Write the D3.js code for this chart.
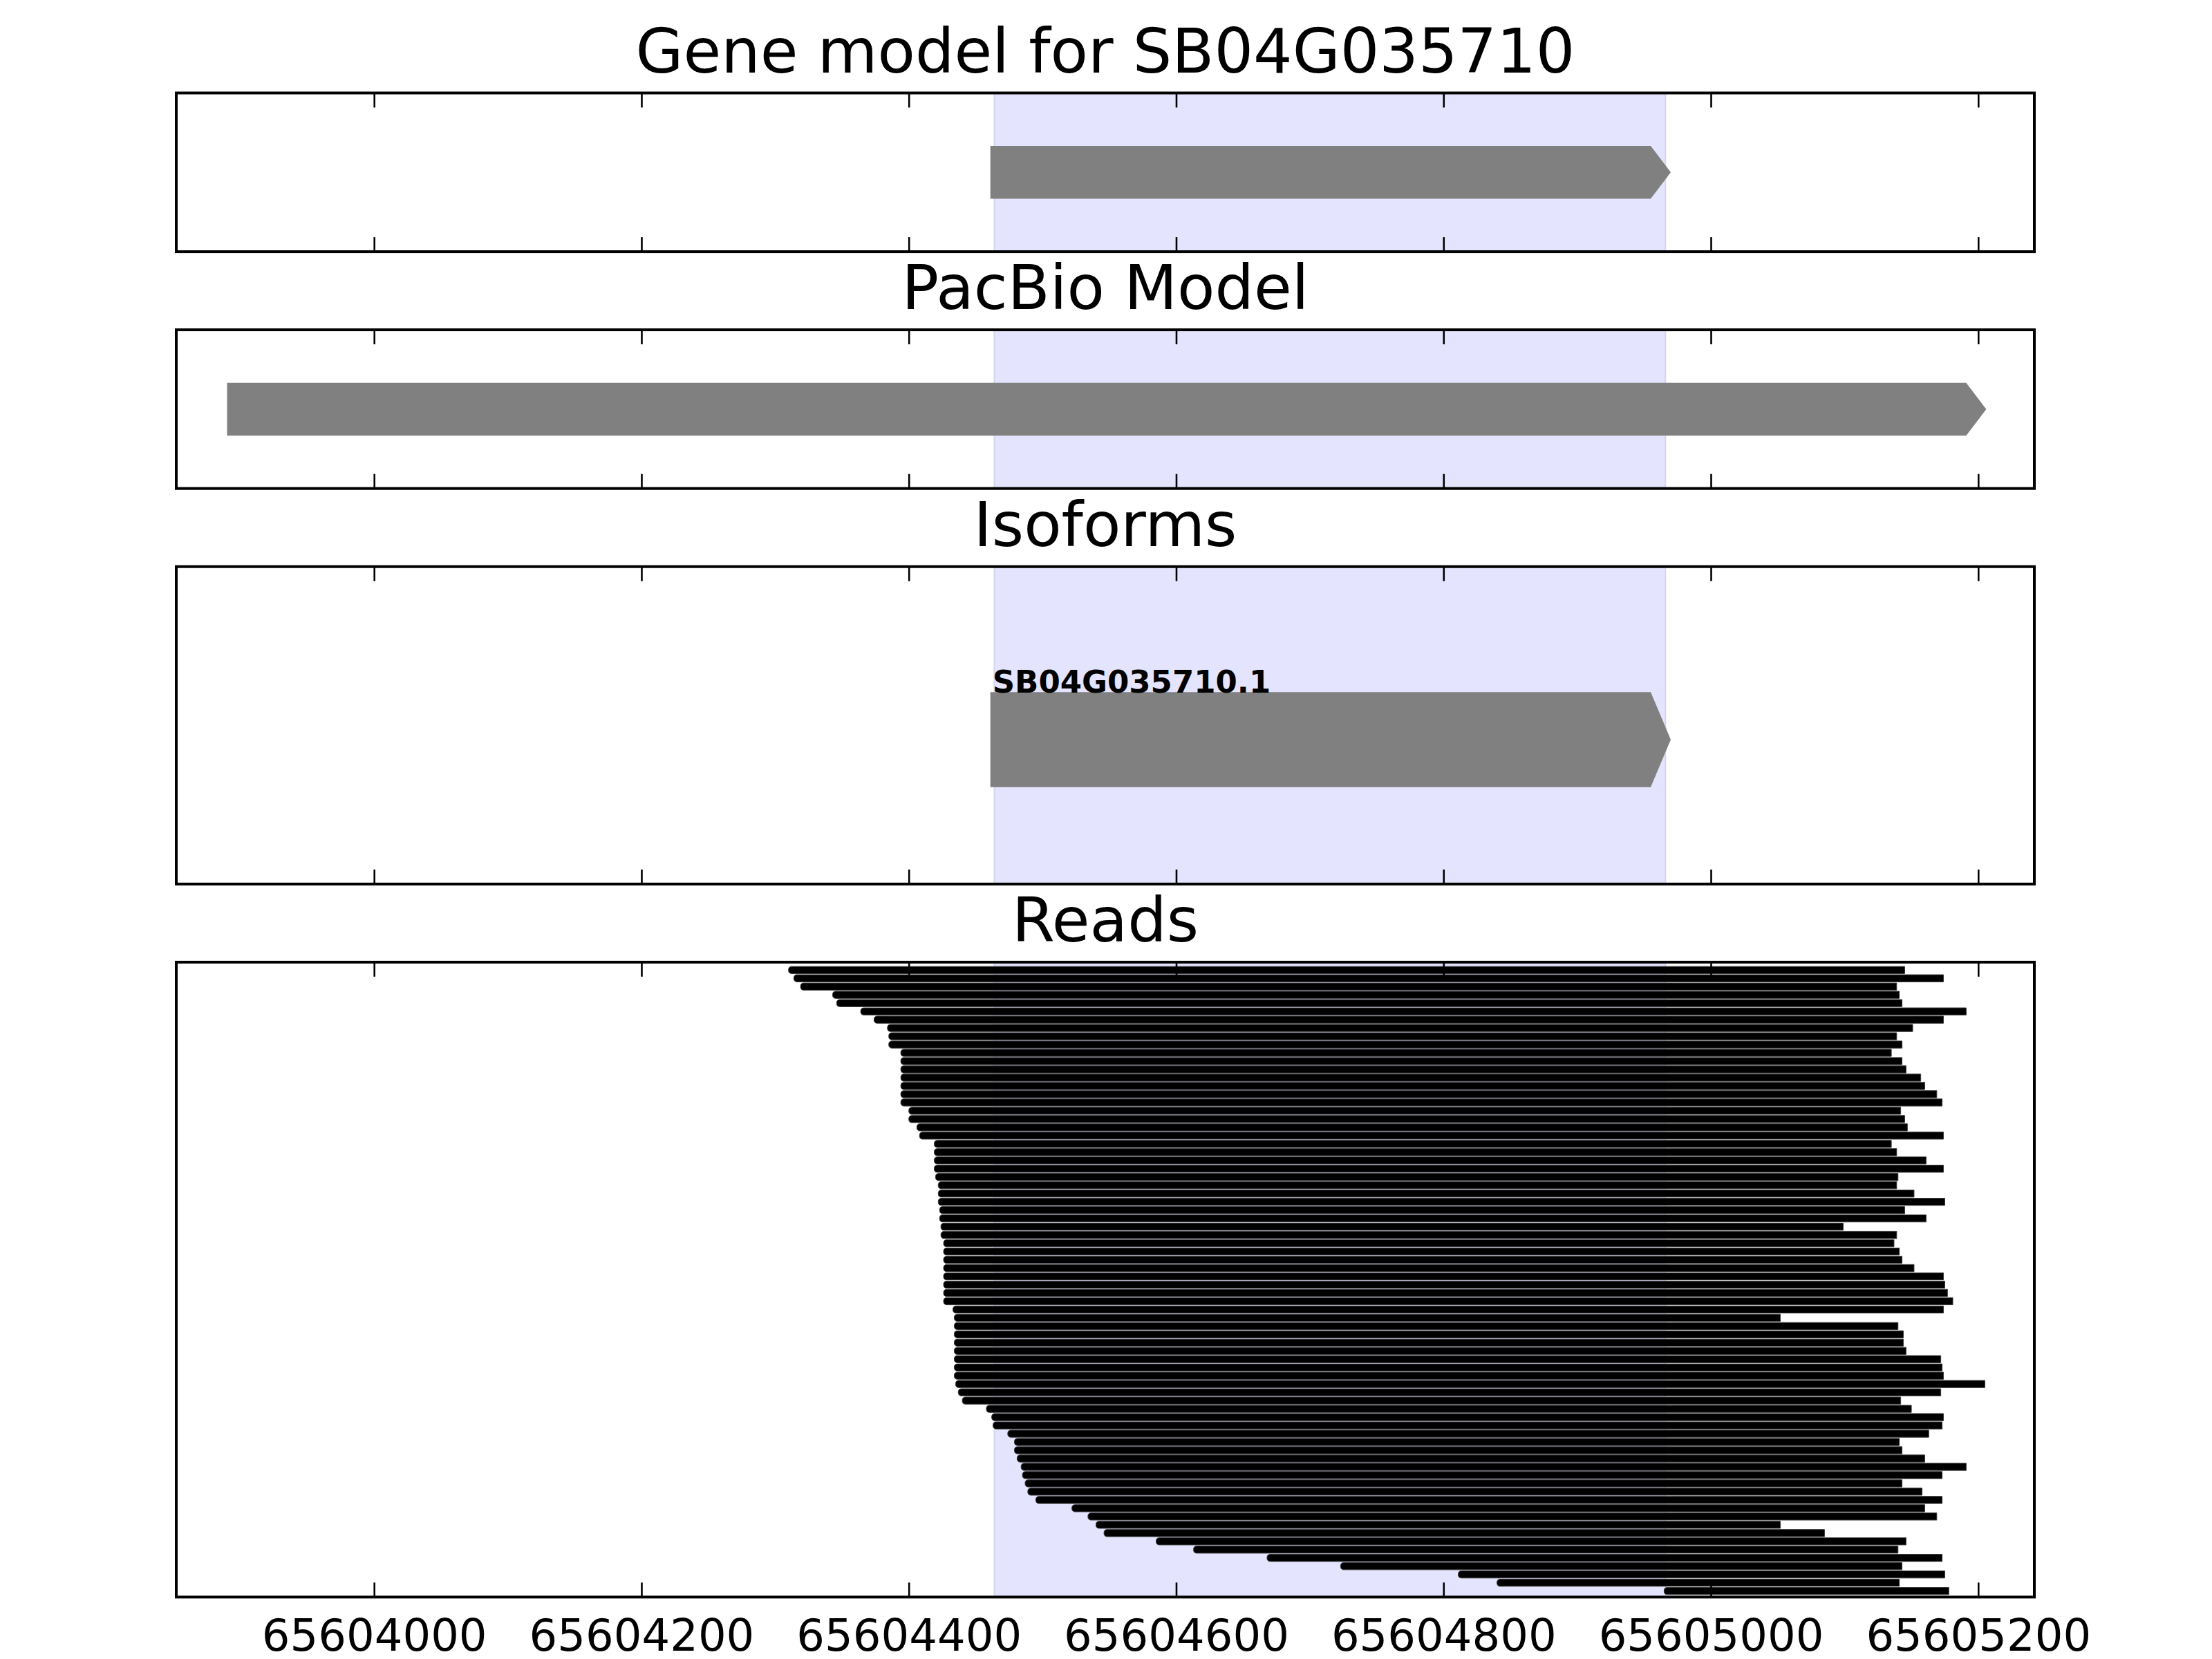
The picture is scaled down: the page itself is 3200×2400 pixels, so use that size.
<!DOCTYPE html>
<html>
<head>
<meta charset="utf-8">
<script src="https://cdn.jsdelivr.net/npm/d3@7/dist/d3.min.js"></script>
<style>
body { margin: 0; background: #fff; }
text { font-family: "DejaVu Sans", sans-serif; }
</style>
</head>
<body>
<div id="chart"></div>
<script>
// ---- data ----
const panelTitles = ["Gene model for SB04G035710", "PacBio Model", "Isoforms", "Reads"];
const geneModel = [{start: 65604461, end: 65604970}];
const pacbioModel = [{start: 65603890, end: 65605206}];
const isoformNames = ["SB04G035710.1"];
const isoformStarts = [65604461];
const isoformEnds = [65604970];
const highlightSpan = [65604464, 65604966];
const xTicks = [65604000, 65604200, 65604400, 65604600, 65604800, 65605000, 65605200];

const readStarts = [
    65604310, 65604314, 65604319, 65604343, 65604346, 65604364, 65604374, 65604384, 65604385, 65604385,
    65604394, 65604394, 65604394, 65604394, 65604394, 65604394, 65604394,
    65604400, 65604400, 65604406, 65604408,
    65604419, 65604419, 65604419, 65604419, 65604420,
    65604422, 65604422, 65604422, 65604423, 65604423, 65604424, 65604424,
    65604426, 65604426, 65604426, 65604426, 65604426, 65604426, 65604426, 65604426,
    65604433, 65604434, 65604434, 65604434, 65604434, 65604434, 65604434, 65604434, 65604434,
    65604435, 65604437, 65604440,
    65604458, 65604462, 65604463, 65604474, 65604479, 65604479, 65604481, 65604484, 65604485,
    65604487, 65604489, 65604495,
    65604522, 65604534, 65604540, 65604546, 65604585, 65604613, 65604668, 65604723, 65604811,
    65604840, 65604965
];
const readEnds = [
    65605145, 65605174, 65605139, 65605141, 65605143, 65605191, 65605174, 65605151, 65605139, 65605143,
    65605135, 65605143, 65605146, 65605157, 65605160, 65605169, 65605173, 65605142, 65605145, 65605147,
    65605174, 65605135, 65605139, 65605161, 65605174, 65605140, 65605139, 65605152, 65605175, 65605145,
    65605161, 65605099, 65605139, 65605137, 65605141, 65605143, 65605152, 65605174, 65605175, 65605177,
    65605181, 65605174, 65605052, 65605140, 65605144, 65605144, 65605146, 65605172, 65605173, 65605174,
    65605205, 65605172, 65605142, 65605150, 65605174, 65605173, 65605163, 65605141, 65605143, 65605160,
    65605191, 65605173, 65605143, 65605158, 65605173, 65605160, 65605169, 65605052, 65605085, 65605146,
    65605140, 65605173, 65605143, 65605175, 65605141, 65605178
];

// ---- layout ----
const width = 3200, height = 2400;
const left = 255, right = 2943;
const panelTops = [134.5, 477.1, 819.7, 1391.9];
const panelHeights = [229.6, 229.6, 459.2, 918.5];
const headLen = 15; // arrow head length in bp

const svg = d3.select("#chart").append("svg")
    .attr("width", width)
    .attr("height", height);

svg.append("rect").attr("width", width).attr("height", height).attr("fill", "#fff");

const x = d3.scaleLinear()
    .domain([65603852, 65605242])
    .range([left, right]);

// pentagon-shaped arrow for a feature
function arrowPath(s, e, yTop, yBot) {
    const x0 = x(s), x1 = x(e), xh = x(e - headLen);
    const ym = (yTop + yBot) / 2;
    return "M" + x0 + "," + yTop + "L" + xh + "," + yTop + "L" + x1 + "," + ym +
        "L" + xh + "," + yBot + "L" + x0 + "," + yBot + "Z";
}

const panels = panelTops.map(function(top, i) {
    const h = panelHeights[i];
    const g = svg.append("g");
    g.append("clipPath").attr("id", "clip" + i)
        .append("rect").attr("x", left).attr("y", top).attr("width", right - left).attr("height", h);
    const inner = g.append("g").attr("clip-path", "url(#clip" + i + ")");

    // highlighted gene span
    inner.append("rect")
        .attr("x", x(highlightSpan[0]))
        .attr("y", top)
        .attr("width", x(highlightSpan[1]) - x(highlightSpan[0]))
        .attr("height", h)
        .attr("fill", "#e4e4fe")
        .attr("stroke", "#d5d5f0")
        .attr("stroke-width", 2);

    g.append("text")
        .attr("x", (left + right) / 2)
        .attr("y", top - 30)
        .attr("text-anchor", "middle")
        .attr("font-size", 89)
        .attr("fill", "#000")
        .text(panelTitles[i]);

    return {g: g, inner: inner, top: top, h: h};
});

// gene model + pacbio model
[geneModel, pacbioModel].forEach(function(model, i) {
    const p = panels[i];
    const y = d3.scaleLinear().domain([-1.5, 1.5]).range([p.top + p.h, p.top]);
    p.inner.selectAll("path.feat").data(model).enter().append("path")
        .attr("class", "feat")
        .attr("d", d => arrowPath(d.start, d.end, y(0.5), y(-0.5)))
        .attr("fill", "#808080");
});

// isoforms
(function() {
    const p = panels[2];
    const y = d3.scaleLinear().domain([-1.52, 1.82]).range([p.top + p.h, p.top]);
    isoformNames.forEach(function(name, i) {
        p.inner.append("path")
            .attr("d", arrowPath(isoformStarts[i], isoformEnds[i], y(i + 0.5), y(i - 0.5)))
            .attr("fill", "#808080");
        p.g.append("text")
            .attr("x", x(isoformStarts[i]) + 3)
            .attr("y", y(i + 0.5) + 1)
            .attr("font-size", 45)
            .attr("font-weight", "bold")
            .attr("fill", "#000")
            .text(name);
    });
})();

// reads
(function() {
    const p = panels[3];
    const y = d3.scaleLinear().domain([-0.95, readStarts.length - 0.27]).range([p.top, p.top + p.h]);
    const bh = 10.3;
    const reads = readStarts.map((s, i) => ({start: s, end: readEnds[i], row: i}));
    p.inner.selectAll("path.read").data(reads).enter().append("path")
        .attr("class", "read")
        .attr("d", function(d) {
            const x0 = x(d.start), x1 = x(d.end);
            const yt = y(d.row) - bh / 2, yb = y(d.row) + bh / 2;
            return "M" + (x0 + 4) + "," + yt + "L" + x1 + "," + yt + "L" + x1 + "," + yb +
                "L" + (x0 + 4) + "," + yb +
                "C" + (x0 + 1) + "," + (yb - 0.5) + " " + x0 + "," + (yb - 2) + " " + x0 + "," + (yt + bh / 2) +
                "C" + x0 + "," + (yt + 2) + " " + (x0 + 1) + "," + (yt + 0.5) + " " + (x0 + 4) + "," + yt + "Z";
        })
        .attr("fill", "#000")
        .attr("stroke", "#3a3a3a")
        .attr("stroke-width", 1);
})();

// ticks and frames
panels.forEach(function(p, i) {
    const last = i === panels.length - 1;
    const bottomAxis = d3.axisBottom(x).tickValues(xTicks)
        .tickSizeInner(-21).tickSizeOuter(0).tickPadding(32)
        .tickFormat(last ? d3.format("d") : () => "");
    const topAxis = d3.axisTop(x).tickValues(xTicks)
        .tickSizeInner(-21).tickSizeOuter(0).tickFormat(() => "");

    const gb = p.g.append("g").attr("transform", "translate(0," + (p.top + p.h) + ")").call(bottomAxis);
    const gt = p.g.append("g").attr("transform", "translate(0," + p.top + ")").call(topAxis);
    [gb, gt].forEach(function(a) {
        a.select(".domain").remove();
        a.selectAll(".tick line").attr("stroke", "#000").attr("stroke-width", 2.6);
        a.selectAll(".tick text").attr("font-size", 64).attr("fill", "#000")
            .attr("font-family", "DejaVu Sans");
    });

    p.g.append("rect")
        .attr("x", left).attr("y", p.top)
        .attr("width", right - left).attr("height", p.h)
        .attr("fill", "none")
        .attr("stroke", "#000")
        .attr("stroke-width", 4);
});
</script>
</body>
</html>
